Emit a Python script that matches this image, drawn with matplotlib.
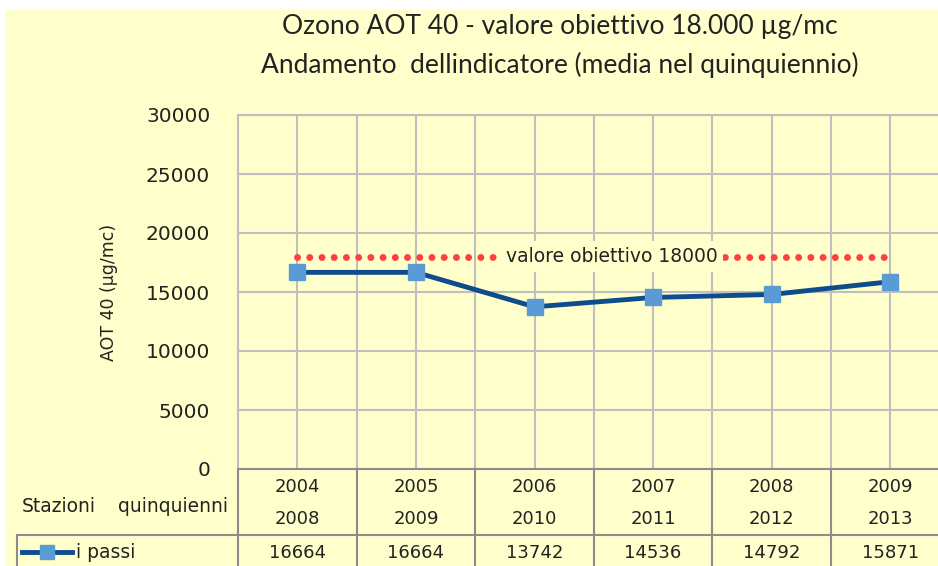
import matplotlib
matplotlib.use("Agg")
import matplotlib.pyplot as plt
from matplotlib.transforms import blended_transform_factory
from matplotlib.patches import Rectangle

plt.rcParams["font.family"] = ["DejaVu Sans"]

# ---- data ----
cat_top = ["2004", "2005", "2006", "2007", "2008", "2009"]
cat_bottom = ["2008", "2009", "2010", "2011", "2012", "2013"]
values = [16664, 16664, 13742, 14536, 14792, 15871]
target = 18000
series_name = "i passi"
title = "Ozono AOT 40 - valore obiettivo 18.000 µg/mc\nAndamento  dellindicatore (media nel quinquiennio)"
ylabel = "AOT 40 (µg/mc)"
yticks = [0, 5000, 10000, 15000, 20000, 25000, 30000]

W, H = 938, 566
BG = "#FFFFCC"
GRID = "#BFBFBF"
TBL = "#8C8C8C"
LINE = "#0F4C8C"
MARK = "#5B9BD5"
RED = "#FF4040"
TXT = "#222222"

fig = plt.figure(figsize=(W / 100, H / 100), dpi=100)
fig.patch.set_facecolor("white")
fig.add_artist(Rectangle((5 / W, 0), 1, (H - 10) / H, transform=fig.transFigure,
                         facecolor=BG, edgecolor="none", zorder=0))

def fx(px):
    return px / W

def fy(py):
    return (H - py) / H

left, right_px, top, bottom = 238, 238 + 6 * 118.6, 115, 469
ax = fig.add_axes([fx(left), fy(bottom), fx(right_px - left), (bottom - top) / H])
ax.set_facecolor(BG)
n = len(values)
x = list(range(n))
ax.set_xlim(-0.5, n - 0.5)
ax.set_ylim(0, 30000)
ax.set_yticks(yticks)
ax.set_yticklabels([str(v) for v in yticks], fontsize=14.5, color=TXT)
ax.tick_params(axis="y", length=0, pad=20)
ax.tick_params(axis="x", length=0, labelbottom=False)
ax.set_xticks([i - 0.5 for i in range(n + 1)])
ax.set_xticks(x, minor=True)
ax.tick_params(axis="x", which="minor", length=0)
ax.grid(True, which="major", color=GRID, linewidth=1.5)
ax.grid(True, which="minor", axis="x", color=GRID, linewidth=1.5)
ax.set_axisbelow(True)
for s in ["left", "top", "right"]:
    ax.spines[s].set_color(GRID)
    ax.spines[s].set_linewidth(1.5)
ax.spines["bottom"].set_color(TBL)
ax.spines["bottom"].set_linewidth(1.5)

# target dotted line, label sits on it with background box
ax.plot([x[0], x[-1]], [target, target], color=RED, linewidth=5,
        linestyle=(0, (0.01, 1.75)), dash_capstyle="round", zorder=2)
ax.text(2.65, target, "valore obiettivo 18000", ha="center", va="center",
        fontsize=13.5, color=TXT, zorder=3,
        bbox=dict(facecolor=BG, edgecolor="none", pad=4))

ax.plot(x, values, color=LINE, linewidth=3.5, marker="s", markersize=12,
        markerfacecolor=MARK, markeredgecolor=MARK, zorder=4)

ax.set_ylabel(ylabel, fontsize=12.5, color=TXT)
ax.yaxis.set_label_coords(fx(118 - left) / fx(right_px - left), 0.5)

fig.text(fx(560), fy(46), title, ha="center", va="center", fontsize=19,
         family="Lato", color=TXT, linespacing=1.6)

# ---- data table below ----
tr = blended_transform_factory(ax.transData, fig.transFigure)
trf = fig.transFigure
lk = dict(color=TBL, linewidth=1.5, clip_on=False)
row_sep = 535
for i in range(n + 1):
    ax.plot([i - 0.5, i - 0.5], [fy(bottom), fy(H)], transform=tr, **lk)
fig.add_artist(plt.Line2D([fx(17), 1], [fy(row_sep), fy(row_sep)], transform=trf, color=TBL, linewidth=1.5))
fig.add_artist(plt.Line2D([fx(17), fx(17)], [fy(row_sep), 0], transform=trf, color=TBL, linewidth=1.5))

for i in range(n):
    ax.text(i, fy(487), cat_top[i], transform=tr, ha="center", va="center",
            fontsize=13, color=TXT)
    ax.text(i, fy(519), cat_bottom[i], transform=tr, ha="center", va="center",
            fontsize=13, color=TXT)
    ax.text(i, fy(553), str(values[i]), transform=tr, ha="center", va="center",
            fontsize=13, color=TXT)

fig.text(fx(22), fy(507), "Stazioni", ha="left", va="center", fontsize=13.5, color=TXT)
fig.text(fx(228), fy(507), "quinquienni", ha="right", va="center", fontsize=13.5, color=TXT)

# legend key in data row
fig.add_artist(plt.Line2D([fx(22), fx(72)], [fy(552), fy(552)], transform=trf,
                          color=LINE, linewidth=3.5))
fig.add_artist(plt.Line2D([fx(47)], [fy(552)], transform=trf, marker="s", markersize=10,
                          markerfacecolor=MARK, markeredgecolor=MARK, linestyle="none"))
fig.text(fx(76), fy(553), series_name, ha="left", va="center", fontsize=13.5, color=TXT)

fig.savefig("out.png", dpi=100, facecolor=fig.get_facecolor())
